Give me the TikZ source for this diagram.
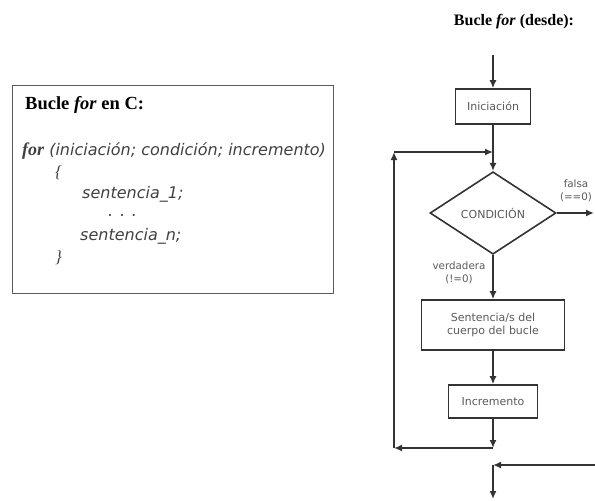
\documentclass[tikz,border=0pt]{standalone}
\usepackage{fontspec}
\setmainfont{Liberation Serif}
\newfontfamily\flujo{DejaVu Sans}
\newfontfamily\codigo{DejaVu Sans}
\usetikzlibrary{arrows.meta,positioning,shapes.geometric}
\definecolor{linea}{HTML}{333333}
\definecolor{gris}{HTML}{5A5A5A}

\begin{document}
\begin{tikzpicture}[x=1pt,y=-1pt,
caja/.style={draw=linea,line width=1.6pt,fill=white,align=center,text=gris,font=\flujo\fontsize{11}{13.5}\selectfont,inner sep=2pt},
rombo/.style={caja,diamond,minimum width=126pt,minimum height=80pt},
etiq/.style={text=gris,font=\flujo\fontsize{10.3}{12.5}\selectfont,align=center,inner sep=0pt},
cod/.style={anchor=base west,inner sep=0pt,text=black!75,font=\codigo\itshape\fontsize{16}{19}\selectfont},
llave/.style={cod,font=\rmfamily\itshape\fontsize{17}{19}\selectfont},
flecha/.style={-{Latex[length=8pt,width=7pt]},draw=linea,line width=1.6pt}]
\useasboundingbox (0,0) rectangle (595,501);
\clip (0,0) rectangle (595,501);
% recuadro con el codigo en C
\node[draw=gris,line width=0.9pt,minimum width=321pt,minimum height=208pt,anchor=north west,inner sep=0pt](marco) at (12,85){};
\node[anchor=base west,inner sep=0pt,font=\fontsize{18.5}{21}\selectfont\bfseries](titc) at (25,109){Bucle \textit{for} en C:};
\node[cod](lfor) at (22,155){{\rmfamily\bfseries\fontsize{18}{19}\selectfont for} (iniciación; condición; incremento)};
\node[llave](ab) at (55,177){\{};
\node[cod](s1) at (82,198){sentencia\_1;};
\node[cod](pts) at (108,216){. . .};
\node[cod](sn) at (80,240){sentencia\_n;};
\node[llave](ce) at (55,262){\}};
% diagrama de flujo
\node[font=\fontsize{16}{18}\selectfont\bfseries](titd) at (514,22){Bucle \textit{for} (desde):};
\coordinate (ent) at (493,55);
\node[caja,minimum width=75pt,minimum height=35pt](ini) at (493,106.5){Iniciación};
\node[rombo](cond) at (493,213){CONDICIÓN};
\node[caja,minimum width=143pt,minimum height=50pt](cuerpo) at (493,325){Sentencia/s del\\cuerpo del bucle};
\node[caja,minimum width=89pt,minimum height=33pt](inc) at (493,401.5){Incremento};
\coordinate (jr) at (493,152);
\coordinate (sl) at (394,152);
\coordinate (jb) at (493,448);
\coordinate (il) at (394,448);
\coordinate (fs) at (594,213);
\coordinate (vr) at (600,465);
\coordinate (js) at (493,465);
\coordinate (fin) at (493,499);
\node[etiq](lf) at (576,191){falsa\\(==0)};
\node[etiq](lv) at (459,273){verdadera\\(!=0)};
\draw[flecha](ent)--(ini);
\draw[flecha](ini)--(cond);
\draw[flecha](cond)--(fs);
\draw[flecha](cond)--(cuerpo);
\draw[flecha](cuerpo)--(inc);
\draw[flecha](inc)--(jb);
\draw[flecha](jb)--(il);
\draw[flecha](il)--(sl);
\draw[flecha](sl)--(jr);
\draw[flecha](vr)--(js);
\draw[flecha](js)--(fin);
\end{tikzpicture}
\end{document}
